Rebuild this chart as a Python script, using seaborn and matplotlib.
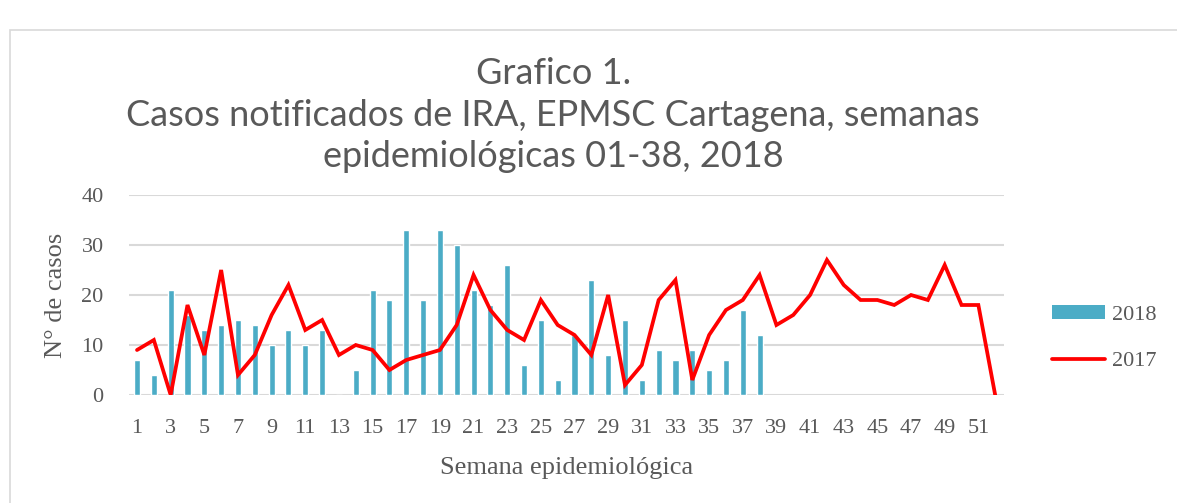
import numpy as np
import pandas as pd
import matplotlib
matplotlib.use("Agg")
from matplotlib import pyplot as plt
from matplotlib.patches import Rectangle, Patch
from matplotlib.lines import Line2D
import seaborn as sns

# datos
semanas = list(range(1, 53))
casos_2018 = [7, 4, 21, 16, 13, 14, 15, 14, 10, 13, 10, 13, 0, 5, 21, 19, 33, 19, 33, 30,
              21, 18, 26, 6, 15, 3, 12, 23, 8, 15, 3, 9, 7, 9, 5, 7, 17, 12]
casos_2017 = [9, 11, 0, 18, 8, 25, 4, 8, 16, 22, 13, 15, 8, 10, 9, 5, 7, 8, 9, 14,
              24, 17, 13, 11, 19, 14, 12, 8, 20, 2, 6, 19, 23, 3, 12, 17, 19, 24, 14, 16,
              20, 27, 22, 19, 19, 18, 20, 19, 26, 18, 18, 0]
ticks_x = list(range(1, 52, 2))
ticks_y = [0, 10, 20, 30, 40]

titulo = "Grafico 1.\nCasos notificados de IRA, EPMSC Cartagena, semanas\nepidemiológicas 01-38, 2018"

df18 = pd.DataFrame({"semana": semanas[:len(casos_2018)], "casos": casos_2018})
df17 = pd.DataFrame({"semana": semanas, "casos": casos_2017})

sns.set_style("white")
plt.rcParams['font.family'] = ['Liberation Serif', 'DejaVu Serif']

gris = "#595959"
azul = "#4BACC6"

fig = plt.figure(figsize=(11.77, 5.03), dpi=100)
ax = fig.add_axes([128.6 / 1177, 1 - 395 / 503, 875 / 1177, 200 / 503])

# borde del grafico
fig.patches.append(Rectangle((10 / 1177, -0.1), 1.2, 1 - 30 / 503 + 0.1,
                             transform=fig.transFigure, fill=False,
                             edgecolor="#D9D9D9", lw=1.2))

sns.barplot(data=df18, x="semana", y="casos", native_scale=True, width=0.36,
            color=azul, saturation=1, ax=ax, zorder=2)
sns.lineplot(data=df17, x="semana", y="casos", color="#FF0000", lw=2.7, ax=ax,
             zorder=3, solid_joinstyle="miter")

ax.set_xlim(0.5, 52.5)
ax.set_ylim(0, 40)
ax.set_xticks(ticks_x)
ax.set_yticks(ticks_y)
ax.yaxis.grid(True, color="#D9D9D9", lw=1.5, zorder=0)
ax.set_axisbelow(True)
for s in ax.spines.values():
    s.set_visible(False)
ax.tick_params(axis="both", length=0, labelsize=16, colors=gris, pad=17)
ax.tick_params(axis="y", pad=18)

ax.set_xlabel("Semana epidemiológica", fontsize=19, color=gris, labelpad=14)
ax.set_ylabel("N° de casos", fontsize=19, color=gris, labelpad=10)

fig.text(0.47, 1 - 115 / 503, titulo, ha="center", va="center", fontsize=26,
         color=gris, family=['Lato', 'DejaVu Sans'],
         linespacing=1.3)

handles = [Patch(facecolor=azul, edgecolor="none"),
           Line2D([0], [0], color="#FF0000", lw=2.7)]
fig.legend(handles, ["2018", "2017"], loc="center left",
           bbox_to_anchor=(1032 / 1177, 1 - 338 / 503), frameon=False,
           fontsize=16, labelcolor=gris, handlelength=2.4, handleheight=0.55,
           labelspacing=1.2, handletextpad=0.3)

plt.savefig("out.png", dpi=100)
